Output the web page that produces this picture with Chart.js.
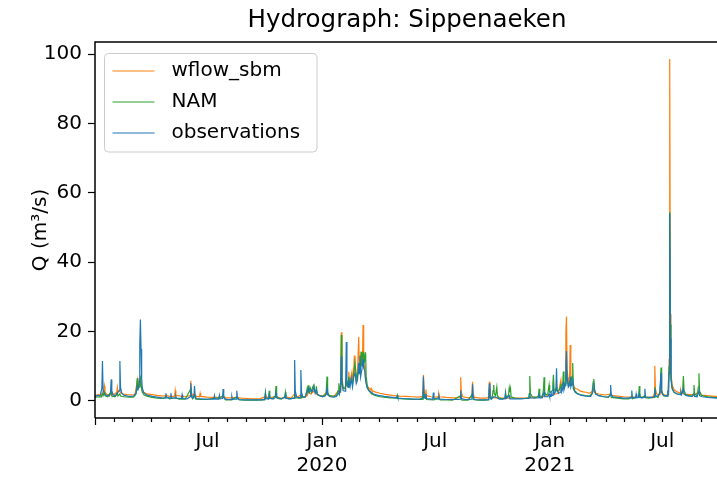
<!DOCTYPE html>
<html>
<head>
<meta charset="utf-8">
<script src="https://cdn.jsdelivr.net/npm/chart.js@4.4.1/dist/chart.umd.min.js"></script>
<style>
  html, body { margin: 0; padding: 0; background: #fff; overflow: hidden; }
  #wrap { width: 717px; height: 484px; }
</style>
</head>
<body>
<div id="wrap"><canvas id="hydro" width="717" height="484"></canvas></div>
<script>
// Daily discharge at Sippenaeken, x = days since 2019-01-01, y = Q in m3/s
const chartTitle = 'Hydrograph: Sippenaeken';
const startIso = '2019-01-01';
const xMaxDay = 1000;
const yMin = -4.93;
const yMax = 103.5;
const yTicks = [0, 20, 40, 60, 80, 100];
const labelledTickDates = ['2019-07-01', '2020-01-01', '2020-07-01', '2021-01-01', '2021-07-01'];
const labelledTickText = [['Jul'], ['Jan', '2020'], ['Jul'], ['Jan', '2021'], ['Jul']];
const seriesNames = ['wflow_sbm', 'NAM', 'observations'];
const seriesColors = ['#ff7f0e', '#2ca02c', '#1f77b4'];

const wflowSbm = [
  [0,1.5],[5,1.8],[10,1.7],[12,2.5],[14,3.0],[15,4.3],[16,2.5],[19,1.9],[25,1.8],[26,3.0],[27,2.2],[31,1.9],[35,2.5],[36,3.9],[37,2.6],[40,2.8],[41,2.4],[45,2.0],[52,1.8],[60,1.7],[64,1.8],[66,3.5],[68,6.0],[69,4.0],[71,4.5],[72,6.0],[73,6.5],[74,5.0],[76,3.0],[79,2.4],[84,2.0],[92,1.8],[100,1.6],[110,1.4],[114,1.6],[120,1.3],[128,1.3],[129,3.0],[130,1.6],[140,1.3],[145,1.2],[153,1.5],[154,5.8],[155,2.5],[157,1.5],[160,2.0],[163,1.3],[168,1.2],[169,2.2],[170,1.3],[180,1.1],[190,1.0],[200,1.0],[206,1.3],[210,0.9],[220,0.9],[228,1.0],[235,0.8],[245,0.7],[255,0.6],[265,0.6],[274,1.2],[280,0.9],[291,1.3],[300,0.7],[306,1.2],[315,0.8],[321,2.0],[325,1.0],[331,1.8],[335,1.0],[341,1.5],[343,2.5],[347,2.0],[352,2.8],[356,2.0],[360,1.5],[366,1.4],[373,2.5],[376,1.5],[384,1.3],[392,3.0],[394,2.5],[395,5.0],[396,19.8],[397,7.0],[399,4.0],[402,3.5],[404,6.0],[405,4.5],[407,5.0],[408,8.4],[409,5.5],[411,6.5],[413,8.3],[414,5.5],[416,9.0],[417,13.1],[418,8.0],[420,6.0],[422,8.0],[424,18.4],[425,10.0],[426,9.0],[428,14.2],[429,10.0],[430,12.0],[431,21.9],[432,12.0],[433,10.0],[434,8.0],[435,6.0],[437,4.5],[440,3.8],[443,3.2],[444,3.6],[445,3.0],[450,2.6],[458,2.2],[467,1.9],[478,1.6],[490,1.4],[500,1.3],[510,1.2],[520,1.1],[527,1.3],[528,7.5],[529,3.0],[531,1.6],[532,3.3],[533,1.5],[540,1.2],[550,1.1],[552,1.3],[553,2.0],[554,1.2],[565,1.0],[575,0.9],[583,0.9],[587,1.1],[588,6.8],[589,2.5],[591,1.2],[600,0.9],[606,1.1],[607,5.5],[608,2.0],[610,1.0],[620,0.8],[630,0.8],[633,1.1],[634,5.5],[635,2.0],[637,1.0],[645,0.9],[655,0.8],[665,0.8],[675,0.8],[685,0.8],[695,0.9],[700,1.0],[710,1.1],[720,1.2],[725,1.4],[730,1.6],[735,1.7],[740,2.0],[745,2.2],[749,6.0],[750,3.5],[753,3.5],[756,5.0],[757,19.4],[758,24.3],[759,9.0],[761,5.5],[763,7.0],[764,16.1],[765,7.5],[767,5.0],[770,4.0],[773,3.5],[776,3.4],[780,2.8],[785,2.6],[790,2.5],[795,2.2],[802,3.0],[803,2.4],[810,2.0],[820,1.7],[829,2.0],[830,1.6],[840,1.4],[850,1.2],[860,1.1],[870,1.1],[880,1.0],[890,1.0],[897,1.2],[899,2.0],[900,10.1],[901,3.5],[903,2.0],[908,1.8],[910,3.5],[912,2.0],[918,1.6],[922,1.8],[923,12.0],[924,98.6],[925,25.0],[926,8.0],[928,4.5],[931,3.2],[936,2.6],[941,2.2],[942,3.0],[943,2.2],[948,2.0],[955,1.8],[963,1.8],[971,2.5],[975,1.7],[985,1.5],[995,1.3],[1002,1.3]
];

const nam = [
  [0,1.0],[5,1.2],[10,1.1],[12,2.0],[13,1.5],[15,2.5],[16,1.5],[20,1.2],[26,2.5],[27,1.4],[32,1.2],[36,2.2],[37,1.4],[40,2.0],[41,1.4],[47,1.2],[55,1.1],[62,1.1],[66,2.0],[68,6.5],[69,3.5],[71,4.0],[72,5.5],[73,6.5],[74,4.5],[76,2.5],[79,1.7],[85,1.3],[92,1.0],[100,0.8],[110,0.7],[114,1.2],[120,0.6],[129,0.9],[135,0.5],[145,0.5],[154,3.5],[155,1.2],[157,0.6],[160,1.8],[162,0.5],[170,0.4],[180,0.4],[192,0.8],[200,0.8],[206,1.5],[210,0.3],[220,0.3],[228,1.2],[232,0.3],[245,0.2],[260,0.2],[272,0.3],[273,0.8],[274,2.5],[275,0.8],[279,0.6],[280,2.9],[281,0.9],[285,0.6],[290,1.5],[291,4.3],[292,1.4],[294,0.7],[300,0.5],[305,1.2],[306,2.5],[307,0.8],[312,0.6],[320,0.8],[321,2.2],[322,0.9],[330,0.8],[331,1.8],[332,0.9],[338,1.2],[340,2.5],[341,3.5],[342,2.2],[343,4.5],[344,3.0],[346,3.8],[348,2.5],[350,4.0],[352,4.6],[353,3.0],[355,2.5],[356,4.2],[357,2.0],[361,1.5],[366,1.3],[371,1.8],[372,3.5],[373,7.0],[374,2.5],[377,1.5],[383,1.3],[388,1.5],[391,3.0],[392,5.1],[393,2.5],[395,5.0],[396,19.0],[397,6.0],[399,3.5],[402,3.5],[404,5.5],[405,4.5],[407,4.0],[408,7.0],[410,5.0],[412,6.0],[414,5.0],[416,8.0],[418,11.0],[419,9.0],[421,6.5],[423,8.0],[424,9.5],[426,8.0],[428,14.2],[429,10.0],[431,13.6],[432,14.2],[433,11.0],[435,14.0],[436,7.0],[438,4.0],[441,2.8],[445,2.0],[450,1.6],[458,1.2],[467,1.0],[475,0.9],[485,0.8],[486,1.6],[487,0.7],[495,0.6],[505,0.5],[515,0.4],[527,0.4],[528,3.0],[529,0.8],[532,1.5],[533,0.4],[545,0.3],[553,1.0],[555,0.3],[565,0.3],[575,0.2],[588,1.5],[590,0.2],[600,0.2],[607,2.0],[608,0.4],[615,0.2],[625,0.2],[633,0.3],[634,3.5],[635,1.0],[637,0.6],[639,1.5],[640,3.0],[641,4.6],[642,2.0],[644,1.5],[646,4.0],[647,1.5],[650,0.8],[655,0.6],[659,0.8],[660,2.5],[661,1.0],[664,1.5],[665,2.0],[666,3.8],[667,2.5],[668,3.5],[669,1.2],[675,0.8],[682,0.7],[690,0.7],[697,0.8],[698,2.0],[699,7.2],[700,2.2],[703,1.2],[710,1.0],[713,1.5],[714,3.5],[715,1.3],[718,1.2],[720,2.0],[721,3.5],[722,6.8],[723,2.5],[725,1.8],[728,2.0],[730,4.6],[731,2.5],[733,2.5],[735,3.0],[736,4.5],[737,7.5],[738,3.5],[740,2.8],[742,4.0],[743,2.8],[746,3.0],[748,4.0],[749,5.0],[750,3.5],[752,5.0],[753,8.5],[754,4.0],[756,5.0],[757,7.0],[758,9.0],[759,6.0],[761,4.5],[763,5.5],[764,6.0],[765,5.0],[767,7.0],[768,10.9],[769,5.0],[771,3.0],[775,2.2],[780,1.8],[788,1.5],[795,1.4],[799,2.0],[800,4.0],[801,5.5],[802,6.3],[803,3.5],[805,2.0],[810,1.5],[818,1.2],[825,1.0],[829,2.0],[830,1.0],[840,0.8],[850,0.6],[858,0.6],[863,1.2],[864,0.6],[870,1.0],[874,1.2],[875,4.3],[876,1.5],[879,0.9],[884,1.5],[885,0.9],[890,0.8],[899,1.0],[900,4.0],[901,1.5],[905,1.0],[908,2.5],[909,5.0],[910,9.6],[911,3.0],[914,1.5],[918,1.3],[921,1.5],[923,10.0],[924,54.5],[925,22.0],[926,7.0],[928,3.5],[931,2.5],[936,2.0],[941,1.8],[944,2.5],[945,4.0],[946,7.2],[947,3.0],[950,1.8],[955,1.5],[960,1.4],[962,2.0],[963,4.6],[964,2.0],[967,1.5],[969,2.5],[970,4.0],[971,8.0],[972,2.8],[975,1.6],[985,1.2],[995,1.0],[1002,0.9]
];

const observations = [
  [0,1.3],[4,1.6],[8,1.4],[11,3.5],[12,11.5],[13,3.2],[15,2.0],[19,1.5],[23,1.4],[25,2.5],[26,6.2],[27,2.8],[29,1.7],[33,1.5],[36,2.4],[39,3.0],[40,11.5],[41,4.0],[43,2.2],[47,1.6],[52,1.4],[57,1.3],[62,1.4],[66,2.2],[68,4.0],[69,3.0],[71,5.5],[72,16.5],[73,23.5],[74,15.0],[75,6.5],[76,3.8],[78,2.5],[81,1.9],[85,1.6],[92,1.3],[100,1.1],[108,0.9],[113,0.8],[114,2.2],[115,1.0],[121,0.8],[122,2.2],[123,0.9],[129,0.8],[130,1.4],[131,0.8],[139,0.7],[140,1.8],[141,0.7],[148,0.6],[153,1.2],[154,5.1],[155,1.8],[157,0.8],[159,0.9],[160,4.3],[161,1.4],[163,0.7],[170,0.6],[178,0.5],[186,0.5],[191,0.5],[192,1.5],[193,0.5],[199,0.5],[200,1.6],[201,0.6],[205,0.7],[206,3.4],[207,1.0],[209,0.5],[214,0.4],[219,0.4],[220,1.3],[221,0.5],[227,0.5],[228,2.9],[229,0.8],[231,0.4],[240,0.3],[250,0.3],[260,0.3],[268,0.3],[273,0.5],[274,2.0],[275,0.6],[279,0.5],[280,1.6],[281,0.7],[287,0.6],[290,1.0],[291,2.2],[292,0.9],[298,0.7],[305,0.9],[306,1.8],[307,0.8],[314,0.6],[320,0.8],[321,11.8],[322,3.0],[324,1.2],[327,0.9],[330,1.0],[331,8.9],[332,2.5],[334,1.2],[338,1.1],[341,2.5],[343,3.8],[345,2.5],[347,3.2],[350,2.8],[352,4.0],[354,2.2],[356,3.2],[358,1.8],[362,1.5],[366,1.2],[370,1.4],[372,2.0],[373,3.5],[374,1.8],[378,1.2],[384,1.1],[388,1.3],[391,2.0],[392,3.0],[393,2.0],[395,3.0],[396,12.8],[397,5.0],[399,3.0],[402,2.8],[403,5.0],[404,17.0],[405,6.0],[407,4.0],[408,5.5],[410,4.0],[412,6.5],[414,4.0],[416,7.0],[418,8.0],[420,5.0],[422,6.0],[424,10.9],[425,8.0],[426,13.0],[427,7.0],[429,9.0],[431,12.0],[432,9.5],[434,8.5],[435,6.0],[437,4.0],[440,3.0],[444,2.5],[448,2.0],[455,1.6],[465,1.3],[475,1.1],[485,0.9],[486,1.4],[487,0.8],[495,0.7],[505,0.6],[515,0.5],[522,0.5],[527,0.9],[528,7.0],[529,2.0],[531,0.7],[532,2.0],[533,0.7],[540,0.5],[543,0.5],[544,2.4],[545,0.7],[552,0.5],[553,1.3],[554,0.5],[565,0.4],[575,0.4],[585,0.4],[587,0.5],[588,3.0],[589,0.7],[595,0.4],[600,0.4],[606,0.5],[607,4.8],[608,1.2],[610,0.4],[620,0.3],[628,0.3],[633,0.4],[634,5.0],[635,1.2],[637,0.5],[641,1.2],[646,1.0],[650,0.5],[655,0.5],[659,0.6],[660,2.0],[661,0.7],[666,1.5],[667,0.6],[675,0.6],[685,0.6],[692,0.7],[698,0.8],[699,2.2],[700,0.9],[706,0.8],[713,0.9],[714,1.8],[715,0.9],[719,0.9],[722,2.5],[723,1.2],[728,1.2],[730,2.0],[731,1.2],[732,1.3],[733,2.8],[734,1.4],[736,1.6],[737,3.5],[738,2.0],[741,3.0],[742,9.4],[743,3.2],[745,2.2],[748,2.5],[749,4.0],[750,2.5],[752,3.5],[753,5.5],[754,3.2],[756,4.5],[757,10.5],[758,14.4],[759,7.0],[761,4.0],[763,4.5],[764,7.0],[765,4.0],[767,5.0],[768,6.5],[769,3.5],[772,2.5],[776,2.0],[782,1.6],[790,1.4],[797,1.3],[800,2.5],[801,3.5],[802,5.2],[803,3.0],[805,2.0],[810,1.5],[818,1.2],[825,1.1],[828,1.6],[829,4.6],[830,2.0],[832,1.2],[840,1.0],[850,0.8],[858,0.8],[862,0.9],[863,3.0],[864,1.0],[869,0.9],[870,2.0],[871,0.9],[874,1.0],[875,2.0],[876,1.0],[880,0.9],[883,1.0],[884,3.5],[885,1.2],[890,1.0],[895,1.0],[899,1.2],[900,3.5],[901,1.5],[904,1.3],[908,2.0],[910,8.0],[911,2.5],[914,1.6],[918,1.5],[920,1.4],[921,3.0],[922,1.8],[923,8.0],[924,54.0],[925,18.0],[926,6.0],[928,3.5],[931,2.5],[936,2.0],[941,1.8],[942,2.5],[943,1.8],[946,3.5],[947,2.0],[950,1.6],[955,1.4],[960,1.3],[963,2.0],[964,1.3],[968,1.2],[971,3.0],[972,1.5],[976,1.2],[985,1.0],[995,0.9],[1002,0.8]
];

// ---- helpers ----
const DAY_MS = 86400000;
function isoToUtc(iso) { const [y, m, d] = iso.split('-').map(Number); return Date.UTC(y, m - 1, d); }
const startUtc = isoToUtc(startIso);
const dayOf = iso => Math.round((isoToUtc(iso) - startUtc) / DAY_MS);
const labelledTickDays = labelledTickDates.map(dayOf);

// month-start positions used for the x tick marks
const monthTicks = [];
{
  const s = new Date(startUtc);
  for (let k = 0; ; k++) {
    const t = Date.UTC(s.getUTCFullYear(), s.getUTCMonth() + k, 1);
    const d = Math.round((t - startUtc) / DAY_MS);
    if (d > xMaxDay) break;
    monthTicks.push({ day: d, major: new Date(t).getUTCMonth() === 0 });
  }
}

const toPoints = arr => arr.map(([x, y]) => ({ x, y }));
const seriesData = [wflowSbm, nam, observations];

Chart.defaults.font.family = '"DejaVu Sans", sans-serif';
Chart.defaults.color = '#000';

const LINE_W = 1.2;
const SPINE_W = 1.5;
// the plot frame runs slightly past the right edge of the canvas
const FRAME_RIGHT = 719;

const framePlugin = {
  id: 'frame',
  afterDraw(chart) {
    const { ctx, chartArea: a, scales } = chart;
    const xs = scales.x;
    ctx.save();

    // title, centred over the plot frame
    ctx.fillStyle = '#000';
    ctx.font = '24.5px "DejaVu Sans"';
    ctx.textAlign = 'center';
    ctx.textBaseline = 'middle';
    ctx.fillText(chartTitle, (a.left + FRAME_RIGHT) / 2, 20.5);

    // spines: left, top, bottom
    ctx.strokeStyle = '#000';
    ctx.lineWidth = SPINE_W;
    ctx.beginPath();
    ctx.moveTo(a.left, a.bottom);
    ctx.lineTo(a.left, a.top);
    ctx.lineTo(chart.width + 2, a.top);
    ctx.moveTo(a.left, a.bottom);
    ctx.lineTo(chart.width + 2, a.bottom);
    ctx.stroke();

    // x tick marks: long at January, short at every other month
    ctx.lineWidth = 1.2;
    ctx.beginPath();
    monthTicks.forEach(t => {
      const px = Math.round(xs.getPixelForValue(t.day)) + 0.5;
      ctx.moveTo(px, a.bottom);
      ctx.lineTo(px, a.bottom + (t.major ? 7 : 4));
    });
    ctx.stroke();

    // legend box in the upper-left corner of the plot
    const bx = a.left + 9.5, by = a.top + 11.5, bw = 212.5, bh = 98.5, r = 4;
    ctx.beginPath();
    ctx.moveTo(bx + r, by);
    ctx.arcTo(bx + bw, by, bx + bw, by + bh, r);
    ctx.arcTo(bx + bw, by + bh, bx, by + bh, r);
    ctx.arcTo(bx, by + bh, bx, by, r);
    ctx.arcTo(bx, by, bx + bw, by, r);
    ctx.closePath();
    ctx.fillStyle = 'rgba(255,255,255,0.8)';
    ctx.fill();
    ctx.strokeStyle = '#cccccc';
    ctx.lineWidth = 1;
    ctx.stroke();
    ctx.font = '20px "DejaVu Sans"';
    ctx.textBaseline = 'middle';
    ctx.textAlign = 'left';
    seriesNames.forEach((name, i) => {
      const yy = Math.round(by + 17 + i * 31);
      ctx.strokeStyle = seriesColors[i];
      ctx.lineWidth = LINE_W;
      ctx.beginPath();
      ctx.moveTo(bx + 8, yy);
      ctx.lineTo(bx + 50, yy);
      ctx.stroke();
      ctx.fillStyle = '#000';
      ctx.fillText(name, bx + 67, yy);
    });
    ctx.restore();
  }
};

new Chart(document.getElementById('hydro'), {
  type: 'line',
  data: {
    datasets: seriesNames.map((name, i) => ({
      label: name,
      data: toPoints(seriesData[i]),
      borderColor: seriesColors[i],
      backgroundColor: seriesColors[i],
      borderWidth: LINE_W,
      pointRadius: 0,
      tension: 0,
      fill: false,
      order: seriesNames.length - i
    }))
  },
  options: {
    responsive: false,
    animation: false,
    devicePixelRatio: 1,
    parsing: { xAxisKey: 'x', yAxisKey: 'y' },
    layout: { padding: { left: 0, right: 0, top: 42, bottom: 0 } },
    plugins: {
      legend: { display: false },
      tooltip: { enabled: false },
      title: { display: false }
    },
    scales: {
      x: {
        type: 'linear',
        min: 0,
        max: xMaxDay,
        grid: { display: false, drawTicks: false },
        border: { display: false },
        afterBuildTicks: s => { s.ticks = monthTicks.map(t => ({ value: t.day })); },
        afterFit: s => { s.height = 66; },
        ticks: {
          autoSkip: false,
          maxRotation: 0,
          padding: 12,
          font: { size: 20, lineHeight: 1.2 },
          color: '#000',
          callback: v => {
            const k = labelledTickDays.indexOf(v);
            return k >= 0 ? labelledTickText[k] : '';
          }
        }
      },
      y: {
        type: 'linear',
        min: yMin,
        max: yMax,
        afterBuildTicks: s => { s.ticks = yTicks.map(v => ({ value: v })); },
        afterFit: s => { s.width = 95; },
        grid: { display: true, drawOnChartArea: false, drawTicks: true, tickLength: 7, tickColor: '#000', tickWidth: 1.2 },
        border: { display: false },
        ticks: { padding: 6, font: { size: 20 }, color: '#000' },
        title: {
          display: true,
          text: 'Q (m³/s)',
          font: { size: 20 },
          color: '#000',
          padding: { top: 29, bottom: 0 }
        }
      }
    }
  },
  plugins: [framePlugin]
});
</script>
</body>
</html>
